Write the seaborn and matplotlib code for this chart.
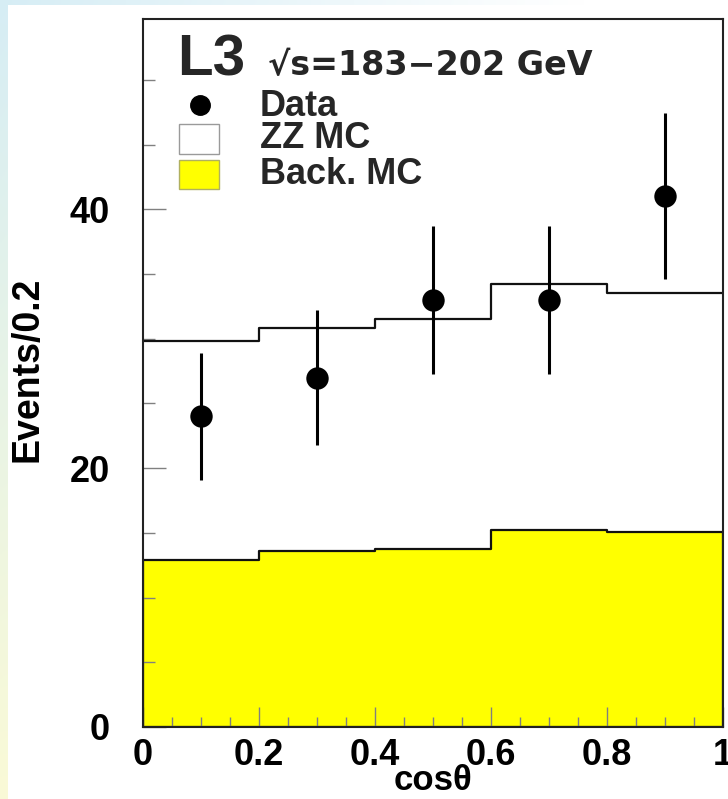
import numpy as np
import matplotlib
matplotlib.use("Agg")
import matplotlib.pyplot as plt
from matplotlib.patches import Rectangle
from matplotlib.lines import Line2D
from matplotlib.ticker import MultipleLocator, FixedLocator, FixedFormatter
import seaborn as sns

# cos(theta) binning and contents per 0.2 bin
bin_edges = [0.0, 0.2, 0.4, 0.6, 0.8, 1.0]
back_mc = [12.9, 13.6, 13.75, 15.25, 15.05]
zz_mc = [16.9, 17.2, 17.75, 18.95, 18.45]
data_counts = [24, 27, 33, 33, 41]
x_tick_values = [0.0, 0.2, 0.4, 0.6, 0.8, 1.0]
x_tick_labels = ["0", "0.2", "0.4", "0.6", "0.8", "1"]
y_tick_values = [0, 20, 40]
y_tick_labels = ["0", "20", "40"]

centers = 0.5 * (np.array(bin_edges[:-1]) + np.array(bin_edges[1:]))
stack_total = np.array(back_mc) + np.array(zz_mc)
data_err = np.sqrt(np.array(data_counts, dtype=float))

sns.set_theme(style="white")
FONT = ["Liberation Sans", "DejaVu Sans"]
plt.rcParams["font.family"] = FONT
plt.rcParams["font.weight"] = "bold"

W, H = 728, 799
fig = plt.figure(figsize=(W / 100, H / 100), dpi=100)

# page backdrop: soft blue-to-yellow strip along the left edge, fading
# to white along the top edge
bg = fig.add_axes([0, 0, 1, 1], zorder=-10)
ny, nx = 200, 300
t = np.linspace(0, 1, ny)[:, None, None]
xs = np.linspace(0, 1, nx)[None, :, None]
top_col = np.array([0.84, 0.93, 0.96])
bot_col = np.array([0.98, 0.98, 0.84])
col = (1 - t) * top_col + t * bot_col
fade = np.clip(1 - xs / 0.8, 0, 1)
grad = fade * col + (1 - fade) * 1.0
bg.imshow(grad, aspect="auto", extent=[0, 1, 0, 1], origin="upper")
bg.add_patch(Rectangle((8 / W, 0), 1, 1 - 5 / H, color="white", lw=0))
bg.set_xlim(0, 1)
bg.set_ylim(0, 1)
bg.axis("off")

# plot frame
L, R, T, B = 143, 723, 19, 727
ax = fig.add_axes([L / W, 1 - B / H, (R - L) / W, (B - T) / H])
ax.set_facecolor("white")
ax.set_axisbelow(False)

# stacked MC: background filled, ZZ on top drawn as outline of the total
sns.histplot(x=centers, weights=back_mc, bins=bin_edges, element="step",
             fill=True, color="#ffff00", alpha=1, edgecolor="#111111",
             linewidth=1.6, ax=ax, zorder=2)
sns.histplot(x=centers, weights=stack_total, bins=bin_edges, element="step",
             fill=False, color="#111111", linewidth=1.6, ax=ax, zorder=3)

# data points with Poisson errors
ax.errorbar(centers, data_counts, yerr=data_err, fmt="none", ecolor="black",
            elinewidth=2.2, capsize=0, zorder=4)
sns.scatterplot(x=centers, y=data_counts, s=260, color="black",
                edgecolor="black", linewidth=0, ax=ax, zorder=5)

ax.set_xlim(0, 1)
ax.set_ylim(0, 54.7)

for side in ["left", "bottom", "right", "top"]:
    ax.spines[side].set_visible(True)
    ax.spines[side].set_color("#222222")
    ax.spines[side].set_linewidth(1.5)
    ax.spines[side].set_zorder(7)

ax.xaxis.set_major_locator(FixedLocator(x_tick_values))
ax.xaxis.set_major_formatter(FixedFormatter(x_tick_labels))
ax.xaxis.set_minor_locator(MultipleLocator(0.05))
ax.yaxis.set_major_locator(FixedLocator(y_tick_values))
ax.yaxis.set_major_formatter(FixedFormatter(y_tick_labels))
ax.yaxis.set_minor_locator(MultipleLocator(5))

tick_col = "#808080"
ax.tick_params(axis="x", which="major", direction="in", length=14.5, width=1.0,
               color=tick_col, pad=8, labelsize=26, bottom=True, top=False)
ax.tick_params(axis="x", which="minor", direction="in", length=7.2, width=1.0,
               color=tick_col, bottom=True, top=False)
ax.tick_params(axis="y", which="major", direction="in", length=16.5, width=1.0,
               color=tick_col, pad=24, labelsize=26, left=True, right=False)
ax.tick_params(axis="y", which="minor", direction="in", length=8.6, width=1.0,
               color=tick_col, left=True, right=False)
for lab in ax.get_xticklabels() + ax.get_yticklabels():
    lab.set_fontweight("bold")
    lab.set_color("black")

ax.set_xlabel("cos\u03b8", fontsize=25, fontweight="bold", color="black")
ax.set_ylabel("Events/0.2", fontsize=27, fontweight="bold", color="black")
ax.xaxis.set_label_coords(0.5, (B - 780) / (B - T))
ax.yaxis.set_label_coords((27 - L) / (R - L), 0.505)
ax.xaxis.label.set_va("center")
ax.yaxis.label.set_va("center")


def axf(px, py):
    return (px - L) / (R - L), (B - py) / (B - T)


# experiment tag and energy range
ax.text(*axf(177, 75), "L3", transform=ax.transAxes, fontsize=42,
        fontweight="bold", ha="left", va="baseline", zorder=6)
ax.text(*axf(268, 75), "\u221as=183\u2212202 GeV", transform=ax.transAxes,
        fontsize=24, fontweight="bold", family=["DejaVu Sans"],
        ha="left", va="baseline", zorder=6)

# legend drawn by hand
ax.add_line(Line2D([axf(200, 105)[0]], [axf(200, 105)[1]], marker="o",
                   markersize=14, color="black", transform=ax.transAxes,
                   zorder=6))
x0, y0 = axf(179, 154)
ax.add_patch(Rectangle((x0, y0), 40 / (R - L), 30 / (B - T),
                       transform=ax.transAxes, facecolor="white",
                       edgecolor="#9a9a9a", lw=1.0, zorder=6))
x0, y0 = axf(179, 189)
ax.add_patch(Rectangle((x0, y0), 40 / (R - L), 29 / (B - T),
                       transform=ax.transAxes, facecolor="#ffff00",
                       edgecolor="#b0b060", lw=1.0, zorder=6))
for label, py in [("Data", 106), ("ZZ MC", 139), ("Back. MC", 174)]:
    ax.text(*axf(260, py), label, transform=ax.transAxes, fontsize=26,
            fontweight="bold", ha="left", va="center", zorder=6)

fig.savefig("out.png", dpi=100)
